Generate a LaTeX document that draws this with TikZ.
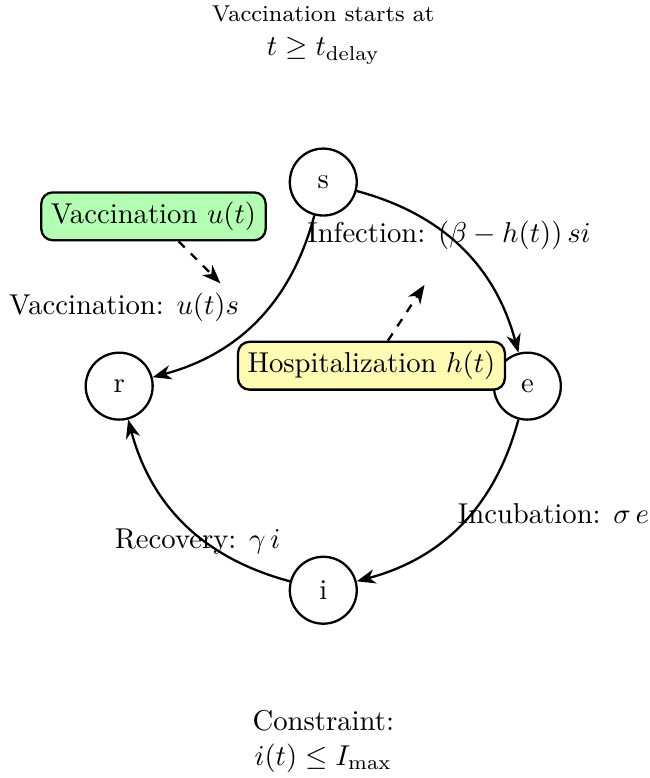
\documentclass[tikz,border=0pt]{standalone}
\usepackage{amsmath}
\usepackage{amssymb}
\usetikzlibrary{arrows.meta}

\begin{document}
\begin{tikzpicture}[>={Stealth[length=6.5pt,width=5pt,inset=2pt]}, thick,
	state/.style={circle, draw, minimum size=0.82cm},
	ctrlbox/.style={draw, rounded corners}]
	\useasboundingbox (-3.96,-4.80) rectangle (3.99,4.73);
	
	% 四个状态节点 s, e, i, r,放在半径 2.5 的圆上
	\node[state] (s) at (0,2.5) {s};
	\node[state] (e) at (2.5,0) {e};
	\node[state] (i) at (0,-2.5) {i};
	\node[state] (r) at (-2.5,0) {r};
	
	% 状态之间的转移,弯曲箭头
	\draw[->] (s) to[bend left=30] (e);
	\draw[->] (e) to[bend left=30] (i);
	\draw[->] (i) to[bend left=30] (r);
	\draw[->] (s) to[bend left=30] (r);
	
	% 转移的标注
	\node (infl) at (1.54,1.85) {Infection: $(\beta - h(t))\,si$};
	\node (incl) at (2.82,-1.56) {Incubation: $\sigma\,e$};
	\node (recl) at (-1.54,-1.90) {Recovery: $\gamma\,i$};
	\node (vacl) at (-2.44,0.97) {Vaccination: $u(t)s$};
	
	% 控制量 u(t) 和 h(t),虚线箭头
	\node[ctrlbox, fill=green!30] (vacc) at (-2.08,2.08) {Vaccination $u(t)$};
	\node[ctrlbox, fill=yellow!30] (hosp) at (0.59,0.25) {Hospitalization $h(t)$};
	\coordinate (vacend) at (-1.26,1.26);
	\coordinate (hospend) at (1.24,1.24);
	\draw[->, dashed] (vacc) -- (vacend);
	\draw[->, dashed] (hosp) -- (hospend);
	
	% 上方和下方的说明
	\node[align=center] (delay) at (0,4.3) {{\footnotesize Vaccination starts at}\\ $t \geq t_{\text{delay}}$};
	\node[align=center] (limit) at (0,-4.35) {Constraint:\\ $i(t) \leq I_{\max}$};
\end{tikzpicture}
\end{document}
